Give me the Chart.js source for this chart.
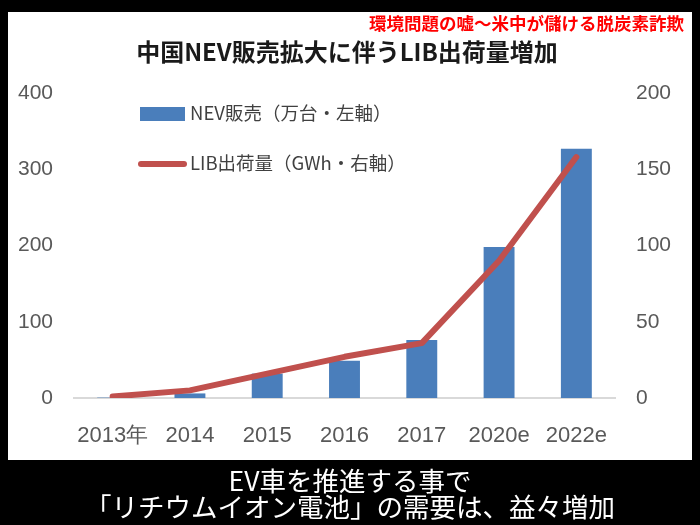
<!DOCTYPE html>
<html>
<head>
<meta charset="utf-8">
<script src="https://cdn.jsdelivr.net/npm/chart.js@4/dist/chart.umd.min.js"></script>
<style>
  html, body { margin: 0; padding: 0; background: #000; }
  canvas { display: block; }
</style>
</head>
<body>
<canvas id="grafica" width="700" height="525"></canvas>
<script>
// 中国NEV販売とLIB出荷量（棒＝左軸、線＝右軸）
const categorias = ['2013年', '2014', '2015', '2016', '2017', '2020e', '2022e'];
const ventasNEV = [0.5, 6, 32, 49, 76, 198, 327];      // 万台
const envioLIB = [1, 5, 16, 27, 36, 90, 158];          // GWh
const ticksIzq = [0, 100, 200, 300, 400];
const ticksDer = [0, 50, 100, 150, 200];

const etiquetaNEV = 'NEV販売（万台・左軸）';
const etiquetaLIB = 'LIB出荷量（GWh・右軸）';
const textoRojo = '環境問題の嘘～米中が儲ける脱炭素詐欺';
const titulo = '中国NEV販売拡大に伴うLIB出荷量増加';
const subtitulo = ['EV車を推進する事で', '「リチウムイオン電池」の需要は、益々増加'];

const CJK = '"Noto Sans CJK JP", "Noto Sans", sans-serif';
Chart.defaults.font.family = '"Liberation Sans", Arial, sans-serif';

// fondo, textos y leyenda dibujados a mano
const decoracion = {
    id: 'decoracion',
    beforeDraw(chart) {
        const ctx = chart.ctx;
        ctx.save();
        ctx.fillStyle = '#000';
        ctx.fillRect(0, 0, chart.width, chart.height);
        ctx.fillStyle = '#fff';
        ctx.fillRect(8, 12, 684, 448);
        ctx.restore();
    },
    afterDraw(chart) {
        const ctx = chart.ctx;
        const ds = chart.data.datasets;
        ctx.save();
        ctx.textBaseline = 'middle';

        ctx.fillStyle = '#ff0000';
        ctx.font = 'bold 17.5px ' + CJK;
        ctx.textAlign = 'right';
        ctx.fillText(textoRojo, 684, 23);

        ctx.fillStyle = '#1a1a1a';
        ctx.font = 'bold 24px ' + CJK;
        ctx.textAlign = 'center';
        ctx.fillText(titulo, 347, 52);

        ctx.fillStyle = '#fff';
        ctx.font = '26.5px ' + CJK;
        ctx.fillText(subtitulo[0], 350, 481);
        ctx.fillText(subtitulo[1], 350, 507);

        // leyenda
        const barra = ds.find(d => d.type === 'bar');
        const linea = ds.find(d => d.type === 'line');
        ctx.fillStyle = barra.backgroundColor;
        ctx.fillRect(140, 107, 45, 14);
        ctx.strokeStyle = linea.borderColor;
        ctx.lineWidth = 6;
        ctx.lineCap = 'round';
        ctx.beginPath();
        ctx.moveTo(141, 164);
        ctx.lineTo(184, 164);
        ctx.stroke();

        ctx.fillStyle = '#404040';
        ctx.font = '18.5px ' + CJK;
        ctx.textAlign = 'left';
        ctx.fillText(barra.label, 190, 113);
        ctx.fillText(linea.label, 190, 163);
        ctx.restore();
    }
};

const ctx = document.getElementById('grafica');
const grafica = new Chart(ctx, {
    data: {
        labels: categorias,
        datasets: [{
            type: 'line',
            label: etiquetaLIB,
            data: envioLIB,
            yAxisID: 'y2',
            borderColor: '#c0504d',
            borderWidth: 6,
            borderCapStyle: 'round',
            borderJoinStyle: 'round',
            pointRadius: 0,
            tension: 0,
            order: 0
        }, {
            type: 'bar',
            label: etiquetaNEV,
            data: ventasNEV,
            yAxisID: 'y',
            backgroundColor: '#4a7ebb',
            barPercentage: 0.4,
            categoryPercentage: 1.0,
            order: 1
        }]
    },
    options: {
        responsive: false,
        animation: false,
        devicePixelRatio: 1,
        layout: { padding: { top: 93, bottom: 77, left: 0, right: 0 } },
        plugins: {
            legend: { display: false },
            tooltip: { enabled: false }
        },
        scales: {
            x: {
                grid: { display: false, drawTicks: false },
                border: { display: true, color: '#d9d9d9', width: 2 },
                ticks: { color: '#595959', font: { size: 22 }, padding: 25, maxRotation: 0 },
                afterFit(scale) { scale.height = 50; }
            },
            y: {
                position: 'left',
                min: 0, max: 400,
                afterBuildTicks(scale) { scale.ticks = ticksIzq.map(v => ({ value: v })); },
                grid: { display: false, drawTicks: false },
                border: { display: false },
                ticks: { color: '#595959', font: { size: 21 }, padding: 21 },
                afterFit(scale) { scale.width = 74; }
            },
            y2: {
                position: 'right',
                min: 0, max: 200,
                afterBuildTicks(scale) { scale.ticks = ticksDer.map(v => ({ value: v })); },
                grid: { display: false, drawTicks: false },
                border: { display: false },
                ticks: { color: '#595959', font: { size: 21 }, padding: 21 },
                afterFit(scale) { scale.width = 85; }
            }
        }
    },
    plugins: [decoracion]
});
</script>
</body>
</html>
